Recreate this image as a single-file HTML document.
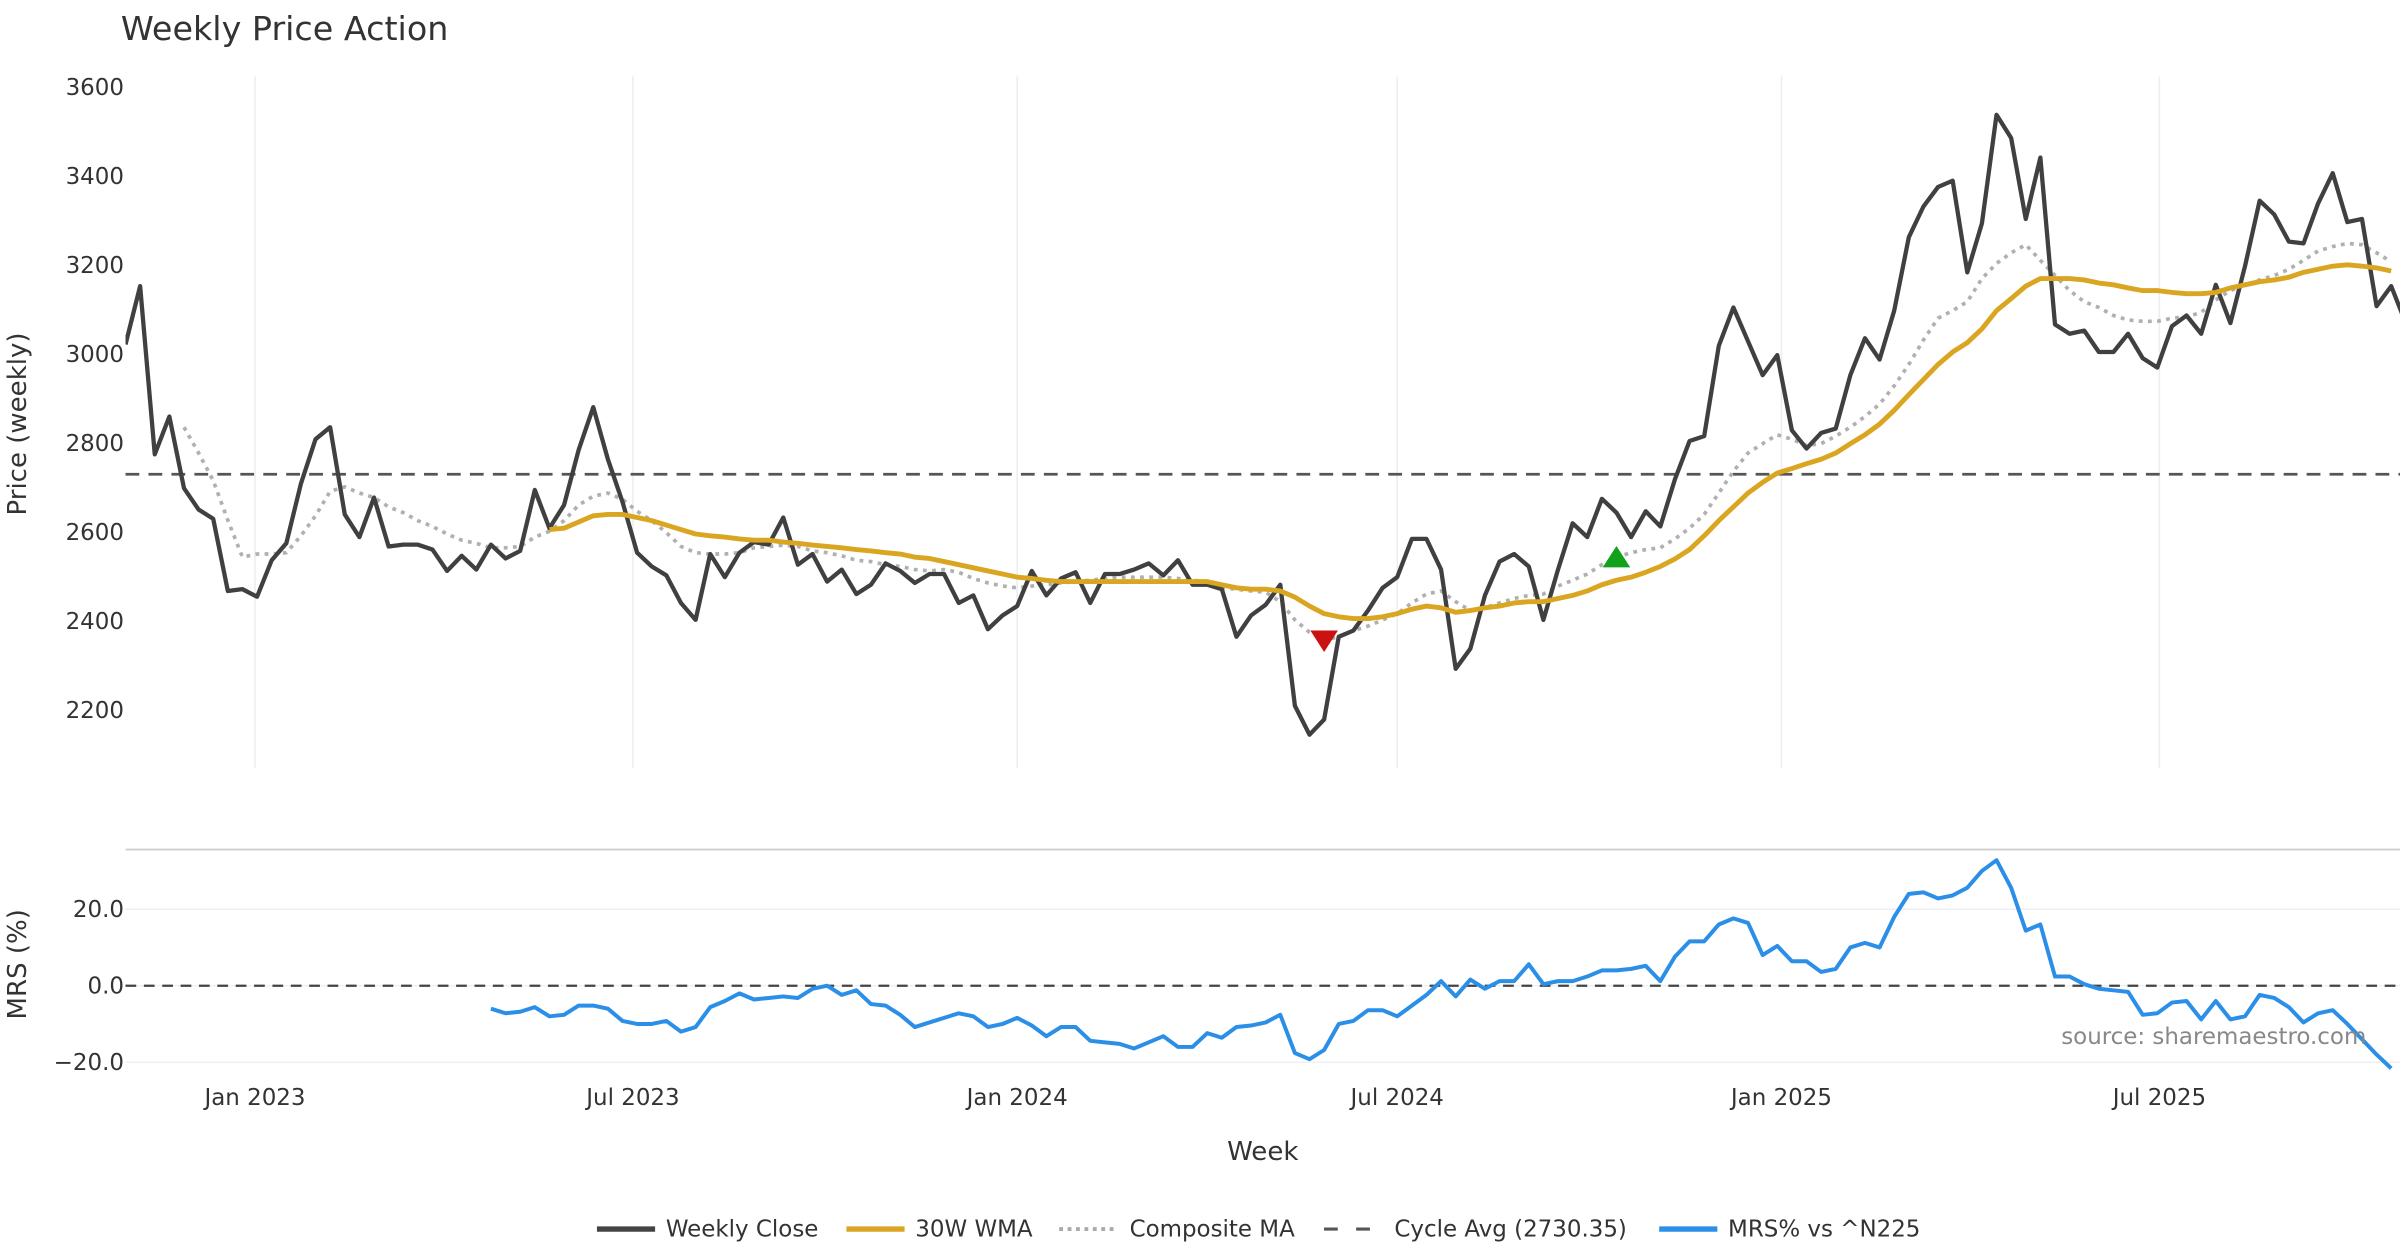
<!DOCTYPE html>
<html><head><meta charset="utf-8">
<style>
html,body{margin:0;padding:0;background:#fff;}
svg{display:block;font-family:"DejaVu Sans","Liberation Sans",sans-serif;}
</style></head>
<body>
<svg id="chart" width="2400" height="1260" viewBox="0 0 1568 823.2" xmlns="http://www.w3.org/2000/svg">
<defs>
<clipPath id="pclip"><rect x="82" y="40" width="1486" height="470"/></clipPath>
<clipPath id="mclip"><rect x="82" y="556" width="1486" height="150"/></clipPath>
</defs>
<text x="79" y="26" font-size="21.8" fill="#333">Weekly Price Action</text>
<g id="pgrid"></g>
<g id="mgrid"></g>
<g id="series"></g>
<text transform="translate(17,277) rotate(-90)" text-anchor="middle" font-size="17" fill="#333">Price (weekly)</text>
<text transform="translate(17,630) rotate(-90)" text-anchor="middle" font-size="17" fill="#333">MRS (%)</text>
<text x="825" y="758" text-anchor="middle" font-size="17" fill="#333">Week</text>
<text x="1546" y="682" text-anchor="end" font-size="15" fill="#888">source: sharemaestro.com</text>
<g font-size="15" fill="#333">
 <g><line x1="390" y1="803" x2="428" y2="803" stroke="#444" stroke-width="3.5"/><text x="435" y="808">Weekly Close</text></g>
 <g><line x1="553" y1="803" x2="591" y2="803" stroke="#DAA520" stroke-width="3.5"/><text x="598" y="808">30W WMA</text></g>
 <g><line x1="692" y1="803" x2="730" y2="803" stroke="#aaa" stroke-width="2.5" stroke-dasharray="2.5,3"/><text x="738" y="808">Composite MA</text></g>
 <g><line x1="865" y1="803" x2="903" y2="803" stroke="#555" stroke-width="2" stroke-dasharray="9,12"/><text x="911" y="808">Cycle Avg (2730.35)</text></g>
 <g><line x1="1084" y1="803" x2="1122" y2="803" stroke="#2B8FE8" stroke-width="3.5"/><text x="1129" y="808">MRS% vs ^N225</text></g>
</g>
</svg>
<script>
const startDate = "2022-10-31";
const closeVals = [3022,3153,2775,2860,2699,2651,2630,2468,2472,2455,2537,2575,2709,2809,2836,2640,2589,2678,2568,2572,2572,2561,2513,2547,2516,2572,2541,2558,2695,2609,2661,2785,2881,2764,2668,2554,2523,2503,2441,2403,2551,2499,2554,2578,2572,2633,2527,2551,2489,2516,2461,2482,2530,2513,2486,2506,2506,2441,2458,2382,2413,2434,2513,2458,2496,2510,2441,2506,2506,2516,2530,2503,2537,2482,2482,2472,2365,2413,2437,2482,2210,2145,2179,2365,2379,2424,2475,2499,2585,2585,2516,2293,2338,2458,2534,2551,2523,2403,2516,2620,2589,2675,2644,2589,2647,2613,2719,2805,2816,3019,3105,3029,2953,2998,2829,2788,2823,2833,2953,3036,2988,3098,3263,3332,3376,3390,3184,3294,3538,3486,3304,3442,3067,3046,3053,3005,3005,3046,2991,2970,3063,3087,3046,3156,3070,3198,3345,3314,3253,3249,3339,3407,3297,3304,3108,3153,3070];
const wmaStart = 29;
const wmaVals = [2606,2609,2623,2637,2640,2640,2633,2626,2616,2606,2596,2592,2589,2585,2582,2582,2578,2575,2571,2568,2565,2561,2558,2554,2551,2544,2541,2534,2527,2520,2513,2506,2499,2496,2492,2489,2489,2489,2489,2489,2489,2489,2489,2489,2489,2489,2482,2475,2472,2472,2468,2454,2434,2417,2410,2406,2406,2410,2417,2427,2434,2430,2420,2424,2430,2434,2441,2444,2444,2451,2458,2468,2482,2492,2499,2510,2523,2540,2561,2592,2626,2657,2688,2712,2733,2743,2754,2764,2778,2799,2819,2843,2874,2909,2943,2977,3005,3026,3057,3098,3125,3153,3170,3170,3170,3167,3160,3156,3149,3143,3143,3139,3136,3136,3139,3149,3156,3163,3167,3173,3184,3191,3198,3201,3198,3194,3187];
const compStart = 4;
const compVals = [2836,2778,2716,2627,2544,2551,2551,2554,2592,2637,2692,2702,2688,2678,2657,2644,2626,2613,2596,2582,2575,2565,2565,2568,2589,2602,2626,2661,2681,2688,2674,2647,2626,2599,2568,2554,2551,2551,2554,2565,2568,2571,2568,2558,2554,2547,2537,2534,2527,2523,2516,2513,2516,2510,2496,2486,2479,2475,2479,2482,2486,2489,2492,2496,2499,2499,2499,2499,2496,2492,2489,2475,2472,2468,2465,2444,2403,2375,2358,2365,2379,2389,2403,2417,2441,2461,2468,2444,2424,2430,2441,2451,2458,2461,2479,2492,2506,2527,2544,2554,2561,2565,2585,2609,2640,2688,2737,2778,2799,2819,2809,2795,2799,2816,2836,2860,2888,2929,2977,3032,3081,3098,3118,3170,3204,3228,3246,3211,3177,3143,3118,3105,3087,3077,3074,3074,3081,3084,3094,3122,3143,3156,3167,3177,3191,3211,3232,3242,3249,3246,3228,3208];
const mrsStart = 25;
const mrsVals = [-6,-7.2,-6.8,-5.6,-8,-7.6,-5.2,-5.2,-6,-9.2,-10,-10,-9.2,-12,-10.8,-5.6,-4,-2,-3.6,-3.2,-2.8,-3.2,-0.8,0,-2.4,-1.2,-4.8,-5.2,-7.6,-10.8,-9.6,-8.4,-7.2,-8,-10.8,-10,-8.4,-10.4,-13.2,-10.8,-10.8,-14.4,-14.8,-15.2,-16.4,-14.8,-13.2,-16,-16,-12.4,-13.6,-10.8,-10.4,-9.6,-7.6,-17.6,-19.2,-16.8,-10,-9.2,-6.4,-6.4,-8,-5.2,-2.4,1.2,-2.8,1.6,-0.8,1.2,1.2,5.6,0.4,1.2,1.2,2.4,4,4,4.4,5.2,1.2,7.6,11.6,11.6,16,17.6,16.4,8,10.4,6.4,6.4,3.6,4.4,10,11.2,10,18,24,24.4,22.8,23.6,25.6,30,32.8,25.6,14.4,16,2.4,2.4,0.4,-0.8,-1.2,-1.6,-7.6,-7.2,-4.4,-4,-8.8,-4,-8.8,-8,-2.4,-3.2,-5.6,-9.6,-7.2,-6.4,-10,-14,-18,-21.6];
const cycleAvg = 2730.35;
const sellSignalIdx = [82];
const sellSignalVals = [2355];
const buySignalIdx = [102];
const buySignalVals = [2545];
const priceTicks = [2200,2400,2600,2800,3000,3200,3400,3600];
const mrsTicks = [-20,0,20];
const mrsTickLabels = ["\u221220.0","0.0","20.0"];
const xTickDates = ["2023-01-01","2023-07-01","2024-01-01","2024-07-01","2025-01-01","2025-07-01"];
const xTickLabels = ["Jan 2023","Jul 2023","Jan 2024","Jul 2024","Jan 2025","Jul 2025"];

const NS = "http://www.w3.org/2000/svg";
const t0 = Date.parse(startDate);
const PX_WEEK = 9.55;
function xIdx(i){ return 82 + i*PX_WEEK; }
function xDate(d){ return 82 + (Date.parse(d)-t0)/86400000/7*PX_WEEK; }
function yP(v){ return 57 + (3600 - v)*(407/1400); }
function yM(v){ return 644 - v*2.5; }
function el(tag, attrs, parent){ const e=document.createElementNS(NS,tag); for(const k in attrs) e.setAttribute(k,attrs[k]); parent.appendChild(e); return e; }
const pg = document.getElementById('pgrid'), mg = document.getElementById('mgrid'), sg = document.getElementById('series');

xTickDates.forEach((d,k)=>{
  const x = xDate(d);
  const g1 = el('line',{x1:x,x2:x,y1:50,y2:502,stroke:'#ebedf0','stroke-width':1},pg);
  
  
  const t = el('text',{x:x,y:722,'text-anchor':'middle','font-size':15,fill:'#333'},mg);
  t.textContent = xTickLabels[k];
  
  
});
priceTicks.forEach(v=>{
  const t = el('text',{x:81,y:yP(v)+5,'text-anchor':'end','font-size':15,fill:'#333'},pg);
  t.textContent = v;
  
  
});
const topLine = el('line',{x1:82,x2:1568,y1:555,y2:555,stroke:'#ccc','stroke-width':1.2},mg);


mrsTicks.forEach((v,k)=>{
  const l = el('line',{x1:82,x2:1568,y1:yM(v),y2:yM(v),stroke:'#eef0f3','stroke-width':1},mg);
  
  
  const t = el('text',{x:81,y:yM(v)+5,'text-anchor':'end','font-size':15,fill:'#333'},mg);
  t.textContent = mrsTickLabels[k];
  
  
});
const zl = el('line',{x1:82,x2:1568,y1:yM(0),y2:yM(0),stroke:'#444','stroke-width':1.5,'stroke-dasharray':'7,5'},mg);



function poly(vals, start, yf, attrs, name, clip){
  const pts = vals.map((v,i)=>xIdx(start+i).toFixed(2)+','+yf(v).toFixed(2)).join(' ');
  const p = el('polyline',Object.assign({points:pts,fill:'none','stroke-linejoin':'round','clip-path':'url(#'+clip+')'},attrs),sg);
  
  
}
const ca = el('line',{x1:82,x2:1568,y1:yP(cycleAvg),y2:yP(cycleAvg),stroke:'#555','stroke-width':1.8,'stroke-dasharray':'9,6'},sg);


poly(compVals, compStart, yP, {stroke:'#b0b0b0','stroke-width':2.4,'stroke-dasharray':'2.5,3.5'}, 'composite-ma-line','pclip');
poly(closeVals, 0, yP, {stroke:'#404040','stroke-width':2.8}, 'weekly-close-line','pclip');
poly(wmaVals, wmaStart, yP, {stroke:'#DAA520','stroke-width':3.2}, 'wma-30w-line','pclip');
poly(mrsVals, mrsStart, yM, {stroke:'#2B8FE8','stroke-width':2.6}, 'mrs-line','mclip');

sellSignalIdx.forEach((i,k)=>{
  const x=xIdx(i), y=yP(sellSignalVals[k]);
  const m = el('polygon',{points:`${x-9},${y-7} ${x+9},${y-7} ${x},${y+7}`,fill:'#CC1111'},sg);
  
  
});
buySignalIdx.forEach((i,k)=>{
  const x=xIdx(i), y=yP(buySignalVals[k]);
  const m = el('polygon',{points:`${x-9},${y+7} ${x+9},${y+7} ${x},${y-7}`,fill:'#11A11A'},sg);
  
  
});
</script>
</body></html>
